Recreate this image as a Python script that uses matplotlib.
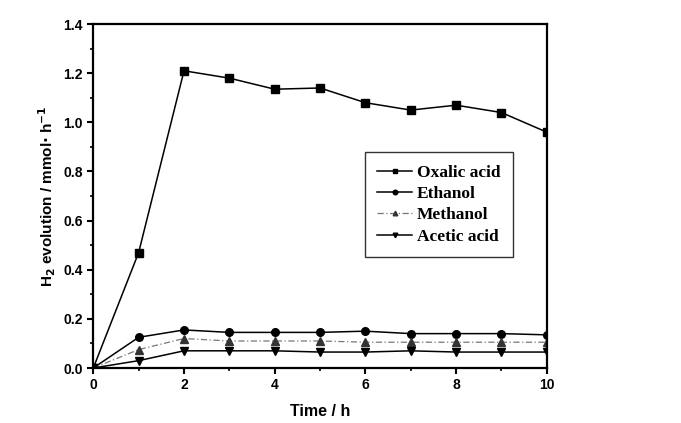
import matplotlib
matplotlib.use('Agg')
import matplotlib.pyplot as plt
from matplotlib.ticker import MultipleLocator

time_h = [0, 1, 2, 3, 4, 5, 6, 7, 8, 9, 10]
oxalic = [0, 0.47, 1.21, 1.18, 1.135, 1.14, 1.08, 1.05, 1.07, 1.04, 0.96]
ethanol = [0, 0.125, 0.155, 0.145, 0.145, 0.145, 0.15, 0.14, 0.14, 0.14, 0.135]
methanol = [0, 0.075, 0.12, 0.11, 0.11, 0.11, 0.105, 0.105, 0.105, 0.105, 0.105]
acetic = [0, 0.03, 0.07, 0.07, 0.07, 0.065, 0.065, 0.07, 0.065, 0.065, 0.065]

plt.rcParams.update({'font.family': 'Liberation Sans', 'font.weight': 'bold'})

fig = plt.figure(figsize=(6.81, 4.23), dpi=100)
ax = fig.add_axes([0.137, 0.130, 0.666, 0.813])

ax.plot(time_h, oxalic, color='black', lw=1.1, marker='s', ms=5.5, label='Oxalic acid')
ax.plot(time_h, ethanol, color='black', lw=1.1, marker='o', ms=5.5, label='Ethanol')
ax.plot(time_h, methanol, color='#777777', lw=0.9, ls=(0, (5, 2, 1, 2)), marker='^', ms=5.5,
        mfc='#333333', mec='#333333', label='Methanol')
ax.plot(time_h, acetic, color='black', lw=1.1, marker='v', ms=5.5, label='Acetic acid')

ax.set_xlim(0, 10)
ax.set_ylim(0, 1.4)
ax.xaxis.set_major_locator(MultipleLocator(2))
ax.xaxis.set_minor_locator(MultipleLocator(1))
ax.yaxis.set_major_locator(MultipleLocator(0.2))
ax.yaxis.set_minor_locator(MultipleLocator(0.1))
ax.yaxis.set_major_formatter(matplotlib.ticker.FormatStrFormatter('%.1f'))
ax.tick_params(which='major', direction='out', length=4, width=1.5, labelsize=10)
ax.tick_params(which='minor', direction='out', length=2.5, width=1.2)
for s in ax.spines.values():
    s.set_linewidth(1.6)

ax.set_xlabel('Time / h', fontsize=11.5, fontweight='bold', labelpad=8)
ax.set_ylabel(r'H$_\mathbf{2}$ evolution / mmol$\cdot$ h$^{\mathbf{-1}}$', fontsize=11,
              fontweight='bold', labelpad=4)

leg = ax.legend(loc='upper left', bbox_to_anchor=(0.58, 0.652), frameon=True, fancybox=False,
                edgecolor='black', handlelength=2.0, handletextpad=0.3, labelspacing=0.3,
                borderpad=0.7, markerscale=0.6,
                prop={'family': 'Liberation Serif', 'weight': 'bold', 'size': 12.5})
leg.get_frame().set_linewidth(1.0)

fig.savefig('out.png', dpi=100)
